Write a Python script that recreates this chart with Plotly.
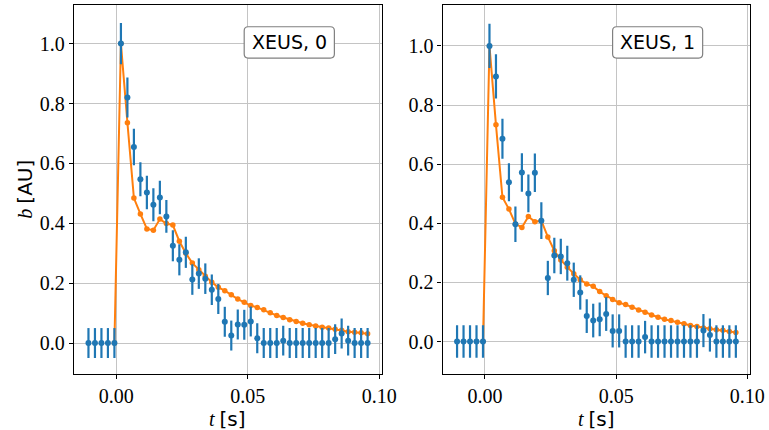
import plotly.graph_objects as go

# time grid (s)
t = [-0.0106, -0.00813, -0.00566, -0.00319, -0.00072, 0.00175, 0.00422, 0.00669,
     0.00916, 0.01163, 0.0141, 0.01657, 0.01904, 0.02151, 0.02398, 0.02645,
     0.02892, 0.03139, 0.03386, 0.03633, 0.0388, 0.04127, 0.04374, 0.04621,
     0.04868, 0.05115, 0.05362, 0.05609, 0.05856, 0.06103, 0.0635, 0.06597,
     0.06844, 0.07091, 0.07338, 0.07585, 0.07832, 0.08079, 0.08326, 0.08573,
     0.0882, 0.09067, 0.09314, 0.09561]

# panel 0 (XEUS, 0)
meas0 = [0, 0, 0, 0, 0, 1.0, 0.82, 0.655, 0.547, 0.503, 0.462, 0.486, 0.423, 0.325,
         0.278, 0.303, 0.212, 0.232, 0.215, 0.178, 0.147, 0.071, 0.025, 0.062,
         0.061, 0.072, 0.016, 0, 0, 0, 0.008, 0, 0, 0, 0, 0, 0, 0, 0.013, 0.032,
         0.008, 0, 0, 0]
err0 = [0.05, 0.05, 0.05, 0.05, 0.05, 0.069, 0.067, 0.061, 0.057, 0.056, 0.055,
        0.056, 0.055, 0.052, 0.052, 0.052, 0.051, 0.051, 0.051, 0.051, 0.05, 0.05,
        0.05, 0.05, 0.05, 0.05, 0.05, 0.05, 0.05, 0.05, 0.05, 0.05, 0.05, 0.05,
        0.05, 0.05, 0.05, 0.05, 0.05, 0.05, 0.05, 0.05, 0.05, 0.05]
model_t0 = t[4:]
model0 = [0, 1.0, 0.736, 0.484, 0.431, 0.381, 0.377, 0.414, 0.399, 0.394, 0.34,
          0.30, 0.267, 0.245, 0.223, 0.203, 0.186, 0.175, 0.161, 0.147, 0.136,
          0.125, 0.119, 0.111, 0.101, 0.092, 0.085, 0.078, 0.072, 0.066, 0.061,
          0.057, 0.053, 0.05, 0.046, 0.043, 0.038, 0.036, 0.034, 0.031]

# panel 1 (XEUS, 1)
meas1 = [0, 0, 0, 0, 0, 1.0, 0.897, 0.686, 0.539, 0.397, 0.572, 0.501, 0.571, 0.409,
         0.215, 0.291, 0.288, 0.265, 0.209, 0.166, 0.086, 0.071, 0.075, 0.093,
         0.036, 0.036, 0, 0, 0, 0.015, 0, 0, 0, 0, 0, 0, 0, 0, 0.037, 0.022,
         0, 0, 0, 0]
err1 = [0.055, 0.055, 0.055, 0.055, 0.055, 0.075, 0.075, 0.068, 0.064, 0.06, 0.065,
        0.064, 0.065, 0.062, 0.058, 0.06, 0.06, 0.059, 0.058, 0.058, 0.057, 0.057,
        0.057, 0.057, 0.056, 0.056, 0.055, 0.055, 0.055, 0.055, 0.055, 0.055,
        0.055, 0.055, 0.055, 0.055, 0.055, 0.055, 0.056, 0.056, 0.055, 0.055,
        0.055, 0.055]
model_t1 = t[4:]
model1 = [0, 1.0, 0.733, 0.488, 0.448, 0.398, 0.386, 0.423, 0.405, 0.409, 0.354,
          0.307, 0.276, 0.251, 0.229, 0.209, 0.195, 0.187, 0.169, 0.155, 0.142,
          0.131, 0.125, 0.116, 0.107, 0.099, 0.09, 0.082, 0.075, 0.071, 0.065,
          0.06, 0.054, 0.051, 0.046, 0.043, 0.04, 0.038, 0.034, 0.031]

labels = ["XEUS, 0", "XEUS, 1"]
x_ticks = [0.0, 0.05, 0.10]
y_ticks = [0.0, 0.2, 0.4, 0.6, 0.8, 1.0]

BLUE = "#1f77b4"
ORANGE = "#ff7f0e"
SERIF = "Liberation Serif, DejaVu Serif"
SANS = "DejaVu Sans"

fig = go.Figure()
panels = [(meas0, err0, model_t0, model0, "x", "y"),
          (meas1, err1, model_t1, model1, "x2", "y2")]
for meas, err, mt, mod, xa, ya in panels:
    fig.add_trace(go.Scatter(x=mt, y=mod, mode="lines+markers", xaxis=xa, yaxis=ya,
                             line=dict(color=ORANGE, width=2),
                             marker=dict(color=ORANGE, size=5.5), showlegend=False))
    fig.add_trace(go.Scatter(x=t, y=meas, mode="markers", xaxis=xa, yaxis=ya,
                             marker=dict(color=BLUE, size=6),
                             error_y=dict(type="data", array=err, color=BLUE,
                                          thickness=2.2, width=0),
                             showlegend=False))

axis_common = dict(showline=True, linecolor="black", linewidth=1.3, mirror=True,
                   ticks="outside", ticklen=4, tickcolor="black", tickwidth=1.2,
                   showgrid=True, gridcolor="#c4c4c4", gridwidth=1.1,
                   zeroline=False,
                   tickfont=dict(family=SERIF, size=20, color="black"))

W, H = 769, 430
ml, mr, mt_, mb = 74, 17, 4, 56
fig.update_layout(
    width=W, height=H,
    margin=dict(l=ml, r=mr, t=mt_, b=mb),
    plot_bgcolor="white", paper_bgcolor="white",
    xaxis=dict(domain=[0, 0.4553], range=[-0.0161, 0.1010], tickvals=x_ticks,
               tickformat=".2f", anchor="y", **axis_common),
    xaxis2=dict(domain=[0.5453, 1], range=[-0.0161, 0.1010], tickvals=x_ticks,
                tickformat=".2f", anchor="y2", **axis_common),
    yaxis=dict(domain=[0, 1], range=[-0.1034, 1.129], tickvals=y_ticks,
               tickformat=".1f", anchor="x", **axis_common),
    yaxis2=dict(domain=[0, 1], range=[-0.1098, 1.1385], tickvals=y_ticks,
                tickformat=".1f", anchor="x2", **axis_common),
)

# label boxes with rounded corners
x0, x1, y0, y1 = 0.553, 0.846, 0.856, 0.941
rx, ry = 0.013, 0.011
box_path = (f"M {x0+rx},{y0} L {x1-rx},{y0} Q {x1},{y0} {x1},{y0+ry} "
            f"L {x1},{y1-ry} Q {x1},{y1} {x1-rx},{y1} L {x0+rx},{y1} "
            f"Q {x0},{y1} {x0},{y1-ry} L {x0},{y0+ry} Q {x0},{y0} {x0+rx},{y0} Z")
for lab, xa, ya in [(labels[0], "x", "y"), (labels[1], "x2", "y2")]:
    fig.add_shape(type="path", path=box_path, xref=f"{xa} domain", yref=f"{ya} domain",
                  line=dict(color="#808080", width=1.2), fillcolor="white", layer="above")
    fig.add_annotation(text=lab, xref=f"{xa} domain", yref=f"{ya} domain",
                       x=0.70, y=0.8985, xanchor="center", yanchor="middle",
                       showarrow=False, font=dict(family=SANS, size=19, color="black"))

# axis titles
pw = W - ml - mr
ph = H - mt_ - mb
fig.add_annotation(text=f"<i>b</i> <span style='font-family:{SANS}'>[AU]</span>",
                   xref="paper", yref="paper", x=(24 - ml) / pw, y=0.5,
                   textangle=-90, showarrow=False, xanchor="center", yanchor="middle",
                   font=dict(family=SERIF, size=20, color="black"))
for cx in [228.3, 597.7]:
    fig.add_annotation(text=f"<i>t</i> <span style='font-family:{SANS}'>[s]</span>",
                       xref="paper", yref="paper", x=(cx - ml) / pw,
                       y=(H - mb - 419) / ph, showarrow=False,
                       xanchor="center", yanchor="middle",
                       font=dict(family=SERIF, size=20, color="black"))

fig.write_html("out.html", config={"displayModeBar": False},
               post_script="document.body.style.margin='0px';")
